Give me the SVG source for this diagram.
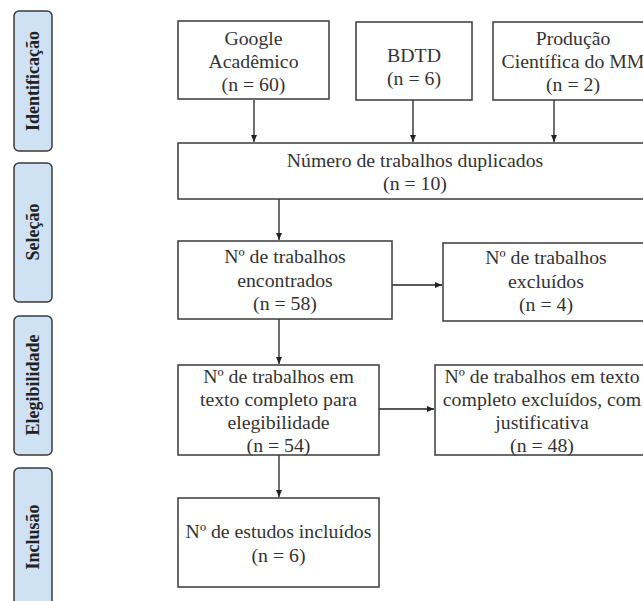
<svg xmlns="http://www.w3.org/2000/svg" width="643" height="601" viewBox="0 0 643 601">
<style>
.box{fill:#fff;stroke:#3a3a3a;stroke-width:1.5}
.side{fill:#cfe2f3;stroke:#3a3a3a;stroke-width:1.5}
.t{font-family:"Liberation Serif","Times New Roman",serif;font-size:19.8px;fill:#333;text-anchor:middle}
.s{font-family:"Liberation Serif","Times New Roman",serif;font-size:18px;font-weight:bold;fill:#222;text-anchor:middle}
.c{stroke:#222;stroke-width:1.3;fill:none;marker-end:url(#ah)}
</style>
<defs>
<marker id="ah" markerWidth="8" markerHeight="8" refX="7" refY="4" orient="auto" markerUnits="userSpaceOnUse">
<path d="M0,1 L7,4 L0,7 Z" fill="#222"/>
</marker>
</defs>
<rect width="643" height="601" fill="#fff"/>
<g id="side-identificacao"><rect class="side" x="14" y="11" width="38" height="140" rx="5"/><text class="s" transform="translate(39,81) rotate(-90)">Identificação</text></g>
<g id="side-selecao"><rect class="side" x="14" y="163" width="38" height="139" rx="5"/><text class="s" transform="translate(39,232) rotate(-90)">Seleção</text></g>
<g id="side-elegibilidade"><rect class="side" x="14" y="316" width="38" height="139" rx="5"/><text class="s" transform="translate(39,385) rotate(-90)">Elegibilidade</text></g>
<g id="side-inclusao"><rect class="side" x="14" y="468" width="38" height="145" rx="5"/><text class="s" transform="translate(39,537) rotate(-90)">Inclusão</text></g>

<g id="connectors">
<line class="c" x1="254" y1="100" x2="254" y2="142"/>
<line class="c" x1="413" y1="100" x2="413" y2="142"/>
<line class="c" x1="554" y1="100" x2="554" y2="142"/>
<line class="c" x1="279" y1="199" x2="279" y2="240"/>
<line class="c" x1="392" y1="285" x2="442" y2="285"/>
<line class="c" x1="279" y1="319" x2="279" y2="364"/>
<line class="c" x1="379" y1="409" x2="434" y2="409"/>
<line class="c" x1="279" y1="455" x2="279" y2="497"/>
</g>

<g id="google"><rect class="box" x="178" y="21" width="151" height="78"/>
<text class="t" x="253.5" y="45">Google</text><text class="t" x="253.5" y="68">Acadêmico</text><text class="t" x="253.5" y="91">(n = 60)</text></g>
<g id="bdtd"><rect class="box" x="356" y="22" width="116" height="78"/>
<text class="t" x="414" y="62">BDTD</text><text class="t" x="414" y="85">(n = 6)</text></g>
<g id="producao"><rect class="box" x="493" y="22" width="170" height="78"/>
<text class="t" x="573" y="45">Produção</text><text class="t" x="573" y="68">Científica do MM</text><text class="t" x="573" y="91">(n = 2)</text></g>
<g id="duplicados"><rect class="box" x="178" y="143" width="480" height="56"/>
<text class="t" x="415" y="167">Número de trabalhos duplicados</text><text class="t" x="415" y="190">(n = 10)</text></g>
<g id="encontrados"><rect class="box" x="178" y="241" width="214" height="78"/>
<text class="t" x="285" y="263">Nº de trabalhos</text><text class="t" x="285" y="287">encontrados</text><text class="t" x="285" y="310">(n = 58)</text></g>
<g id="excluidos"><rect class="box" x="443" y="243" width="210" height="78"/>
<text class="t" x="546" y="264">Nº de trabalhos</text><text class="t" x="546" y="288">excluídos</text><text class="t" x="546" y="311">(n = 4)</text></g>
<g id="elegibilidade"><rect class="box" x="178" y="365" width="201" height="90"/>
<text class="t" x="278.5" y="383">Nº de trabalhos em</text><text class="t" x="278.5" y="406">texto completo para</text><text class="t" x="278.5" y="429">elegibilidade</text><text class="t" x="278.5" y="452">(n = 54)</text></g>
<g id="excluidos-justificativa"><rect class="box" x="435" y="365" width="220" height="90"/>
<text class="t" x="542" y="383">Nº de trabalhos em texto</text><text class="t" x="542" y="406">completo excluídos, com</text><text class="t" x="542" y="429">justificativa</text><text class="t" x="542" y="452">(n = 48)</text></g>
<g id="incluidos"><rect class="box" x="178" y="498" width="201" height="89"/>
<text class="t" x="278.5" y="538">Nº de estudos incluídos</text><text class="t" x="278.5" y="562">(n = 6)</text></g>
</svg>
